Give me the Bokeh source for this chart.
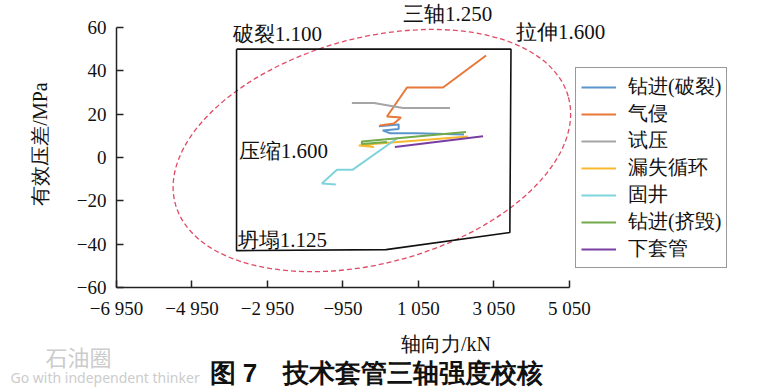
from bokeh.plotting import figure
from bokeh.models import FixedTicker, Label, Legend, LegendItem, Range1d, Title
from bokeh.embed import file_html
from bokeh.resources import INLINE

# ---- data ----
x_ticks = [-6950, -4950, -2950, -950, 1050, 3050, 5050]
x_tick_labels = ["−6 950", "−4 950", "−2 950", "−950", "1 050", "3 050", "5 050"]
y_ticks = [-60, -40, -20, 0, 20, 40, 60]
y_tick_labels = ["−60", "−40", "−20", "0", "20", "40", "60"]

# triaxial design envelope (box)
env_x = [-3770, 3500, 3470, 190, -3770, -3770]
env_y = [50, 50, -34.6, -42.5, -43, 50]

# triaxial ellipse (center, full axes, angle in rad)
ell_cx, ell_cy = -185, 3.2
ell_w, ell_h, ell_angle = 10790, 104, 0.265

series_names = ["钻进(破裂)", "气侵", "试压", "漏失循环", "固井", "钻进(挤毁)", "下套管"]
zj_pl_x = [0, 525, 525, 100, 300, 980, 2255]
zj_pl_y = [14.4, 15.2, 13.2, 12.5, 11.2, 11.2, 10.6]
qq_x = [30, 400, 585, 215, 745, 1700, 2840]
qq_y = [14.8, 15.7, 18.5, 18.9, 32.3, 32.3, 47.1]
sy_x = [-715, -130, 640, 1885]
sy_y = [25.2, 25.2, 22.8, 22.8]
ls_x = [-130, -530, -80, 2360]
ls_y = [4.9, 5.5, 6.3, 9.7]
gj_x = [-1140, -1510, -1110, -700, 505]
gj_y = [-12.5, -12.0, -5.7, -5.7, 9.1]
zj_jh_x = [215, -450, -450, 2310]
zj_jh_y = [7.2, 6.2, 7.4, 11.8]
xtg_x = [425, 2760]
xtg_y = [4.8, 9.8]

series_x = [zj_pl_x, qq_x, sy_x, ls_x, gj_x, zj_jh_x, xtg_x]
series_y = [zj_pl_y, qq_y, sy_y, ls_y, gj_y, zj_jh_y, xtg_y]
colors = ["#5a96cc", "#e8783a", "#a5a5a5", "#f8b92e", "#7fd4dc", "#72aa4c", "#7a3ea2"]

ann_texts = ["破裂1.100", "三轴1.250", "拉伸1.600", "压缩1.600", "坍塌1.125"]
ann_x = [-3873, 638, 3635, -3713, -3740]
ann_y = [57.2, 66.4, 57.7, 2.8, -38.3]

x_axis_span = (-6950, 5050)
y_axis_span = (-60, 60)

SERIF = "Liberation Serif"

# frame spans from the y axis to the right edge and from the top edge to the x axis;
# axis lines themselves are limited with bounds
p = figure(width=775, height=388,
           x_range=Range1d(-6950, 10507), y_range=Range1d(-60, 72.46),
           output_backend="svg", toolbar_location=None,
           min_border_left=116, min_border_right=0,
           min_border_top=0, min_border_bottom=101)
p.xgrid.visible = False
p.ygrid.visible = False
p.outline_line_color = None
p.background_fill_color = "white"
p.border_fill_color = "white"

for ax, ticks, labels, span in ((p.xaxis[0], x_ticks, x_tick_labels, x_axis_span),
                                (p.yaxis[0], y_ticks, y_tick_labels, y_axis_span)):
    ax.ticker = FixedTicker(ticks=ticks)
    ax.bounds = span
    ax.major_label_overrides = {t: l for t, l in zip(ticks, labels)}
    ax.axis_line_width = 1.5
    ax.axis_line_color = "#222222"
    ax.major_tick_line_color = "#222222"
    ax.major_tick_line_width = 1.5
    ax.major_tick_in = 7
    ax.major_tick_out = 0
    ax.minor_tick_line_color = None
    ax.major_label_text_font = SERIF
    ax.major_label_text_font_size = "19px"
    ax.major_label_text_color = "#111111"
    ax.major_label_standoff = 10
    ax.axis_label_text_font = SERIF
    ax.axis_label_text_font_size = "20px"
    ax.axis_label_text_font_style = "normal"
    ax.axis_label_text_color = "#111111"

p.xaxis.axis_label = "轴向力/kN"
p.yaxis.axis_label = "有效压差/MPa"
p.xaxis.axis_label_standoff = 11
p.yaxis.axis_label_standoff = 23

# ellipse
p.ellipse(x=[ell_cx], y=[ell_cy], width=[ell_w], height=[ell_h], angle=[ell_angle],
          fill_color=None, line_color="#e04a64", line_width=1.3, line_dash="5 3")

# envelope
p.line(env_x, env_y, line_color="#111111", line_width=1.6)

items = []
for name, xs, ys, c in zip(series_names, series_x, series_y, colors):
    r = p.line(xs, ys, line_color=c, line_width=2)
    items.append(LegendItem(label=name, renderers=[r]))

legend = Legend(items=items, location=(459, 19))
legend.margin = 0
legend.padding = 5
legend.spacing = 0
legend.label_height = 26
legend.glyph_height = 26
legend.glyph_width = 35
legend.label_standoff = 12
legend.label_text_font = SERIF
legend.label_text_font_size = "20px"
legend.label_text_color = "#111111"
legend.border_line_color = "#333333"
legend.border_line_width = 1.5
legend.background_fill_color = "white"
p.add_layout(legend)

for t, x, y in zip(ann_texts, ann_x, ann_y):
    p.add_layout(Label(x=x, y=y, text=t, text_font=SERIF, text_font_size="21px",
                       text_color="#111111", text_align="left", text_baseline="middle"))

# caption and watermark as bottom titles (negative standoff keeps them from taking space)
p.add_layout(Title(text="图 7\u3000技术套管三轴强度校核", align="left", offset=93,
                   vertical_align="bottom",
                   text_font="Liberation Sans", text_font_size="26px",
                   text_font_style="bold", text_color="#111111", standoff=-61), "below")
p.add_layout(Title(text="Go with independent thinker", align="left", offset=-106,
                   vertical_align="bottom",
                   text_font="Noto Sans", text_font_size="14px", text_font_style="normal",
                   text_color="#cccccc", standoff=-58), "below")
p.add_layout(Title(text="石油圈", align="left", offset=-71,
                   vertical_align="top",
                   text_font="Noto Sans CJK SC", text_font_size="22px", text_font_style="normal",
                   text_color="#cccccc", standoff=-36), "below")

open("out.html", "w").write(file_html(p, INLINE))
